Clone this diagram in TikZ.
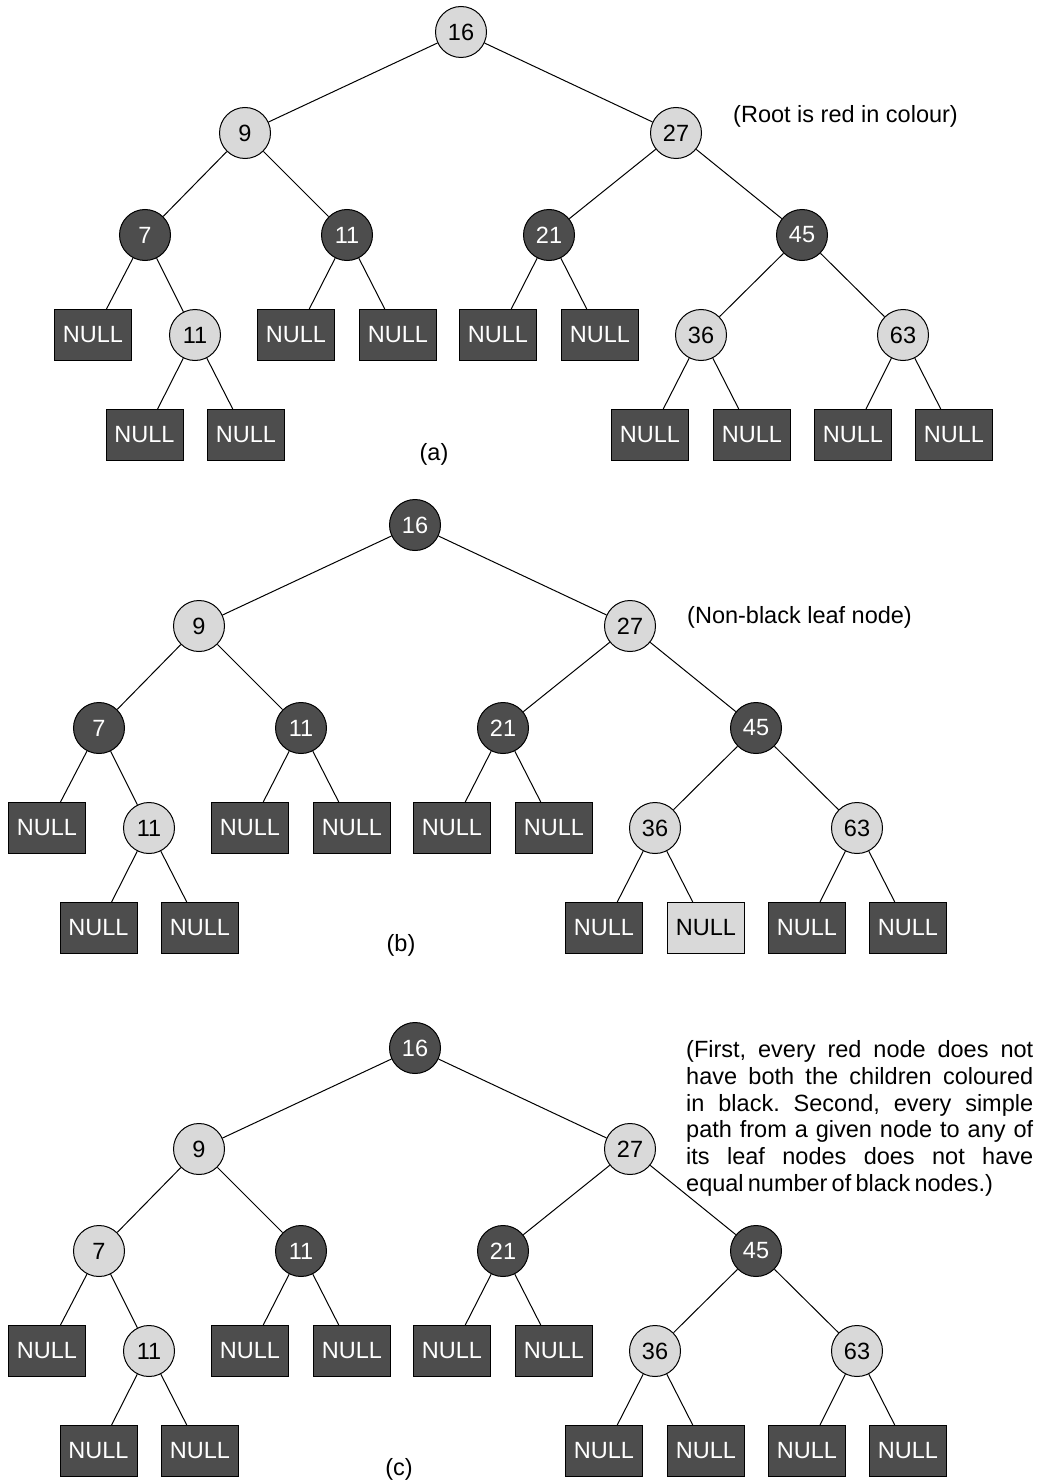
\documentclass[tikz,border=0pt]{standalone}
\usepackage{fontspec}
\setmainfont{Liberation Sans}
\frenchspacing
\definecolor{darkfill}{RGB}{77,77,77}
\definecolor{lightfill}{RGB}{217,217,217}
\tikzset{
  every node/.style={font=\fontsize{23.5bp}{26.8bp}\selectfont, inner sep=0pt},
  rn/.style={circle, draw=black, line width=1bp, fill=lightfill, text=black, minimum size=51bp},
  bn/.style={circle, draw=black, line width=1bp, fill=darkfill, text=white, minimum size=51bp},
  nullb/.style={rectangle, draw=black, line width=1bp, fill=darkfill, text=white, minimum width=77bp, minimum height=51bp},
  nulll/.style={rectangle, draw=black, line width=1bp, fill=lightfill, text=black, minimum width=77bp, minimum height=51bp},
  edge/.style={draw=black, line width=1bp},
  note/.style={anchor=west, text=black},
  para/.style={anchor=base west, text=black}
}
% #1 prefix, #2..#8 styles of 16,9,27,7,11,21,45 ; #9 style of right child of 36
\newcommand\rbtree[9]{
  \node[#2] (#1x16) at (461,32) {16};
  \node[#3] (#1x9) at (245,133) {9};
  \node[#4] (#1x27) at (676,133) {27};
  \node[#5] (#1x7) at (145,235) {7};
  \node[#6] (#1x11) at (347,235) {11};
  \node[#7] (#1x21) at (549,235) {21};
  \node[#8] (#1x45) at (802,235) {45};
  \node[nullb] (#1n1) at (93,335) {NULL};
  \node[rn] (#1x11b) at (195,335) {11};
  \node[nullb] (#1n2) at (296,335) {NULL};
  \node[nullb] (#1n3) at (398,335) {NULL};
  \node[nullb] (#1n4) at (498,335) {NULL};
  \node[nullb] (#1n5) at (600,335) {NULL};
  \node[rn] (#1x36) at (701,335) {36};
  \node[rn] (#1x63) at (903,335) {63};
  \node[nullb] (#1n6) at (144.5,435) {NULL};
  \node[nullb] (#1n7) at (246,435) {NULL};
  \node[nullb] (#1n8) at (650,435) {NULL};
  \node[#9] (#1n9) at (752,435) {NULL};
  \node[nullb] (#1n10) at (853,435) {NULL};
  \node[nullb] (#1n11) at (954,435) {NULL};
  \draw[edge] (#1x16) -- (#1x9);
  \draw[edge] (#1x16) -- (#1x27);
  \draw[edge] (#1x9) -- (#1x7);
  \draw[edge] (#1x9) -- (#1x11);
  \draw[edge] (#1x27) -- (#1x21);
  \draw[edge] (#1x27) -- (#1x45);
  \draw[edge] (#1x7) -- (#1n1);
  \draw[edge] (#1x7) -- (#1x11b);
  \draw[edge] (#1x11) -- (#1n2);
  \draw[edge] (#1x11) -- (#1n3);
  \draw[edge] (#1x21) -- (#1n4);
  \draw[edge] (#1x21) -- (#1n5);
  \draw[edge] (#1x45) -- (#1x36);
  \draw[edge] (#1x45) -- (#1x63);
  \draw[edge] (#1x11b) -- (#1n6);
  \draw[edge] (#1x11b) -- (#1n7);
  \draw[edge] (#1x36) -- (#1n8);
  \draw[edge] (#1x36) -- (#1n9);
  \draw[edge] (#1x63) -- (#1n10);
  \draw[edge] (#1x63) -- (#1n11);
}
\newcommand\tsp{\hspace{4.2bp}}
\begin{document}
\begin{tikzpicture}[x=1bp, y=-1bp]
\useasboundingbox[fill=white] (0,0) rectangle (1038,1484);
% (a)
\begin{scope}
  \rbtree{a}{rn}{rn}{rn}{bn}{bn}{bn}{bn}{nullb}
\end{scope}
\node[text=black] (labela) at (434,454) {(a)};
\node[note] (notea) at (733,116) {(Root is red in colour)};
% (b)
\begin{scope}[shift={(-46,493)}]
  \rbtree{b}{bn}{rn}{rn}{bn}{bn}{bn}{bn}{nulll}
\end{scope}
\node[text=black] (labelb) at (401,945) {(b)};
\node[note] (noteb) at (687,617) {(Non-black leaf node)};
% (c)
\begin{scope}[shift={(-46,1016)}]
  \rbtree{c}{bn}{rn}{rn}{rn}{bn}{bn}{bn}{nullb}
\end{scope}
\node[text=black] (labelc) at (399,1469) {(c)};
\node[para] (p1) at (686,1057) {\makebox[347bp][s]{(First, every red node does not}};
\node[para] (p2) at (686,1084) {\makebox[347bp][s]{have both the children coloured}};
\node[para] (p3) at (686,1111) {\makebox[347bp][s]{in black. Second, every simple}};
\node[para] (p4) at (686,1137) {\makebox[347bp][s]{path from a given node to any of}};
\node[para] (p5) at (686,1164) {\makebox[347bp][s]{its leaf nodes does not have}};
\node[para] (p6) at (686,1191) {equal\tsp number\tsp of\tsp black\tsp nodes.)};
\end{tikzpicture}
\end{document}
